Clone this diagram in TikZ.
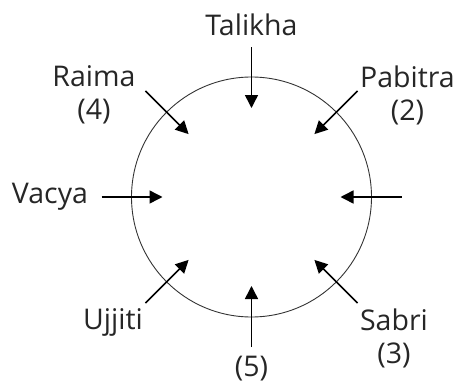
\documentclass[tikz,border=0pt]{standalone}
\usepackage{fontspec}
\setmainfont{Open Sans}
\usetikzlibrary{arrows.meta}
\begin{document}
\begin{tikzpicture}[x=1pt,y=-1pt,
every node/.style={font=\fontsize{28.5}{33}\selectfont,text=black!85,inner sep=0pt},
ring/.style={draw=black!80,line width=0.9pt},
pointer/.style={draw=black,line width=1.5pt,-{Triangle[length=13pt,width=13pt]}},
seat/.style={align=center}]
\path[use as bounding box] (0,0) rectangle (459,386);
\draw[ring] (251.5,197) circle[radius=120];
% tails (r=150) and tips (r=89) round the table
\coordinate (nT) at (251.5,47);   \coordinate (nH) at (251.5,108);
\coordinate (neT) at (357.6,90.9); \coordinate (neH) at (314.4,134.1);
\coordinate (eT) at (401.5,197);  \coordinate (eH) at (340.5,197);
\coordinate (seT) at (357.6,303.1); \coordinate (seH) at (314.4,259.9);
\coordinate (sT) at (251.5,347);  \coordinate (sH) at (251.5,286);
\coordinate (swT) at (145.4,303.1); \coordinate (swH) at (188.6,259.9);
\coordinate (wT) at (101.5,197);  \coordinate (wH) at (162.5,197);
\coordinate (nwT) at (145.4,90.9); \coordinate (nwH) at (188.6,134.1);
\draw[pointer] (nT)--(nH);
\draw[pointer] (neT)--(neH);
\draw[pointer] (eT)--(eH);
\draw[pointer] (seT)--(seH);
\draw[pointer] (sT)--(sH);
\draw[pointer] (swT)--(swH);
\draw[pointer] (wT)--(wH);
\draw[pointer] (nwT)--(nwH);
% names
\node[anchor=base] (talikha) at (251.5,35) {Talikha};
\node[seat] (raima) at (94,95) {Raima\\(4)};
\node[seat] (pabitra) at (407.5,95) {Pabitra\\(2)};
\node (vacya) at (50,197) {Vacya};
\node[anchor=base] (ujjiti) at (113,329) {Ujjiti};
\node (five) at (251.5,369) {(5)};
\node[seat] (sabri) at (394,338) {Sabri\\(3)};
\end{tikzpicture}
\end{document}
